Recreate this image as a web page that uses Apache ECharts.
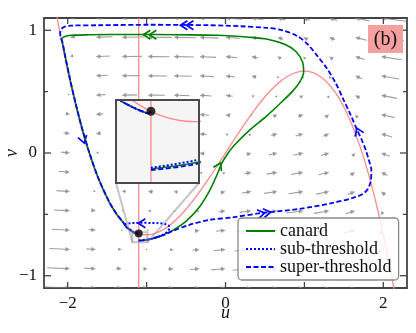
<!DOCTYPE html>
<html><head><meta charset="utf-8">
<script src="https://cdn.jsdelivr.net/npm/echarts@6/dist/echarts.min.js"></script>
<style>html,body{margin:0;padding:0;background:#fff}#c{width:416px;height:333px}</style>
</head><body><div id="c"></div>
<script>
// ---------------- data ----------------
const xLabelValues = [-2, 0, 2];
const yLabelValues = [-1, 0, 1];
const xMajorTicks = [-2, -1, 0, 1, 2];
const yMajorTicks = [-1, 0, 1];
const yMinorTicks = [-0.5, 0.5];

// cubic (u-) nullcline
const nullclineU = [-2.15,-2.1,-2.0,-1.9,-1.8,-1.7,-1.6,-1.5,-1.4,-1.3,-1.25,-1.2,-1.175,-1.15,-1.125,-1.1,-1.075,-1.05,-1.025,-1.0,-0.975,-0.95,-0.9,-0.8,-0.7,-0.6,-0.5,-0.4,-0.3,-0.2,-0.1,0,0.1,0.2,0.3,0.4,0.5,0.6,0.7,0.8,0.9,1.0,1.1,1.2,1.3,1.4,1.5,1.6,1.7,1.8,1.9,2.0,2.1,2.15];
const nullclineV = [1.1627,0.987,0.6667,0.3863,0.144,-0.0623,-0.2347,-0.375,-0.4853,-0.5677,-0.599,-0.624,-0.6343,-0.643,-0.6504,-0.6563,-0.6609,-0.6641,-0.666,-0.6667,-0.666,-0.6642,-0.657,-0.6293,-0.5857,-0.528,-0.4583,-0.3787,-0.291,-0.1973,-0.0997,0,0.0997,0.1973,0.291,0.3787,0.4583,0.528,0.5857,0.6293,0.657,0.6667,0.6563,0.624,0.5677,0.4853,0.375,0.2347,0.0623,-0.144,-0.3863,-0.6667,-0.987,-1.1627];
// vertical (v-) nullcline
const vNullclineU = -1.1;
const vNullclineV = [-1.1, 1.1];
const fixedPoint = [-1.1, -0.6563];

// trajectories
const canardU = [-1.1,-0.99,-0.9,-0.8,-0.648,-0.495,-0.33,-0.203,-0.114,-0.051,0.025,0.114,0.305,0.52,0.724,0.851,0.94,0.99,0.978,0.889,0.749,0.533,0.305,-0.114,-0.584,-1.219,-1.727,-1.956,-2.044,-2.076,-2.066,-2.035,-1.970,-1.897,-1.817,-1.724,-1.614,-1.472,-1.377,-1.303,-1.25,-1.2,-1.171,-1.144,-1.118,-1.107,-1.1];
const canardV = [-0.714,-0.707,-0.695,-0.671,-0.622,-0.553,-0.44,-0.309,-0.187,-0.089,-0.008,0.065,0.187,0.301,0.423,0.504,0.577,0.659,0.74,0.829,0.886,0.927,0.943,0.959,0.963,0.966,0.963,0.959,0.947,0.927,0.9,0.8,0.6,0.4,0.2,0,-0.2,-0.4,-0.5,-0.56,-0.607,-0.631,-0.645,-0.6517,-0.6567,-0.6583,-0.6563];

const subU = [-1.1,-1.0,-0.9,-0.8,-0.735,-0.71,-0.72,-0.77,-0.85,-0.95,-1.05,-1.15,-1.22,-1.27,-1.27,-1.25,-1.2,-1.171,-1.144,-1.118,-1.107,-1.1];
const subV = [-0.7128,-0.7055,-0.693,-0.668,-0.64,-0.61,-0.59,-0.578,-0.572,-0.57,-0.569,-0.57,-0.573,-0.582,-0.595,-0.607,-0.631,-0.645,-0.6517,-0.6567,-0.6583,-0.6563];

const superU = [-1.1,-0.99,-0.927,-0.8,-0.673,-0.457,-0.203,0.089,0.47,0.94,1.359,1.613,1.74,1.803,1.841,1.848,1.816,1.778,1.727,1.663,1.587,1.498,1.397,1.283,1.156,1.041,0.914,0.724,0.52,0.178,-0.203,-0.965,-1.6,-1.956,-2.044,-2.083,-2.095,-2.089,-2.066,-2.035,-1.970,-1.897,-1.817,-1.724,-1.614,-1.472,-1.377,-1.303,-1.25,-1.2,-1.171,-1.144,-1.118,-1.107,-1.1];
const superV = [-0.7152,-0.7082,-0.695,-0.672,-0.636,-0.585,-0.545,-0.524,-0.488,-0.455,-0.407,-0.366,-0.333,-0.293,-0.228,-0.138,-0.057,0.024,0.106,0.195,0.309,0.431,0.569,0.691,0.797,0.886,0.951,1.0,1.02,1.033,1.041,1.045,1.041,1.038,1.028,1.008,0.976,0.943,0.9,0.8,0.6,0.4,0.2,0,-0.2,-0.4,-0.5,-0.56,-0.607,-0.631,-0.645,-0.6517,-0.6567,-0.6583,-0.6563];

// direction arrows on trajectories: [u, v, dirU, dirV, count]
const canardArrows = [[-1.041, 0.963, -1, 0, 2], [-0.063, -0.081, 0.14, 0.18, 1]];
const superArrows = [[-0.571, 1.041, -1, 0, 2], [0.571, -0.482, 1, 0.1, 2], [1.663, 0.203, -0.14, 0.2, 1], [-1.79, 0.081, 0.0227, -0.05, 1]];
const subArrows = [[-1.105, -0.573, -1, 0, 1]];

// vector field grid
const fieldU = [-2.3,-1.9714,-1.6429,-1.3143,-0.9857,-0.6571,-0.3286,0,0.3286,0.6571,0.9857,1.3143,1.6429,1.9714,2.3];
const fieldF = [1.7557,0.5826,-0.1649,-0.5575,-0.6665,-0.5625,-0.3168,0,0.3168,0.5625,0.6665,0.5575,0.1649,-0.5826,-1.7557];
const fieldDV = [-0.084,-0.061,-0.038,-0.015,0.008,0.031,0.054,0.077,0.1,0.123,0.146,0.169,0.192,0.215,0.238];
const fieldV = [-1.1,-0.9429,-0.7857,-0.6286,-0.4714,-0.3143,-0.1571,0,0.1571,0.3143,0.4714,0.6286,0.7857,0.9429,1.1];

// inset window (data range)
const insetURange = [-1.18, -0.99];
const insetVRange = [-0.728, -0.645];

// ---------------- layout / style ----------------
const FONT = 'Liberation Serif';
const MAIN = {left: 44, top: 18, width: 363, height: 270};
const INSET = {left: 116, top: 100, width: 83, height: 83};
const FIELD_SCALE = 15;
const ARROW_COLOR = 'rgba(125,125,125,0.75)';
const RED = '#ff8a8a';
const GREEN = '#008000';
const BLUE = '#0000ff';

const zip = (a, b) => a.map((x, i) => [x, b[i]]);
const nullcline = zip(nullclineU, nullclineV);
const vLine = vNullclineV.map(v => [vNullclineU, v]);
const canard = zip(canardU, canardV);
const sub = zip(subU, subV);
const sup = zip(superU, superV);

const fieldData = [];
fieldV.forEach(v => fieldU.forEach((u, i) => fieldData.push([u, v, fieldF[i] - v, fieldDV[i]])));

const tickData = [].concat(xMajorTicks.map(t => [t, 0, 0]), yMajorTicks.map(t => [0, t, 1]), yMinorTicks.map(t => [0, t, 2]));

function clipOf(cs) { return {type: 'rect', shape: {x: cs.x, y: cs.y, width: cs.width, height: cs.height}}; }

function renderField(params, api) {
  const u = api.value(0), v = api.value(1), du = api.value(2), dv = api.value(3);
  const tip = api.coord([u, v]);
  const dx = FIELD_SCALE * du, dy = -FIELD_SCALE * dv;
  const L = Math.hypot(dx, dy);
  const cs = params.coordSys;
  if (L < 1.3) {
    return {type: 'circle', shape: {cx: tip[0], cy: tip[1], r: 0.8}, style: {fill: ARROW_COLOR}, clipPath: clipOf(cs)};
  }
  const ux = dx / L, uy = dy / L;
  const hl = Math.min(4.5, L), hw = hl * 0.5;
  const base = [tip[0] - ux * hl, tip[1] - uy * hl];
  const tail = [tip[0] - dx, tip[1] - dy];
  return {type: 'group', clipPath: clipOf(cs), children: [
    {type: 'line', shape: {x1: tail[0], y1: tail[1], x2: base[0] + ux, y2: base[1] + uy}, style: {stroke: ARROW_COLOR, lineWidth: 1.1}},
    {type: 'polygon', shape: {points: [tip, [base[0] - uy * hw, base[1] + ux * hw], [base[0] + uy * hw, base[1] - ux * hw]]}, style: {fill: ARROW_COLOR}}
  ]};
}

function makeChevronRenderer(color) {
  return function (params, api) {
    const u = api.value(0), v = api.value(1), du = api.value(2), dv = api.value(3), n = api.value(4);
    const p = api.coord([u, v]);
    const q = api.coord([u + du, v + dv]);
    let dx = q[0] - p[0], dy = q[1] - p[1];
    const L = Math.hypot(dx, dy); dx /= L; dy /= L;
    const depth = 7, hw = 4.5, gap = 6;
    const children = [];
    for (let k = 0; k < n; k++) {
      const t = [p[0] - dx * gap * k, p[1] - dy * gap * k];
      const b = [t[0] - dx * depth, t[1] - dy * depth];
      children.push({type: 'polyline', shape: {points: [[b[0] - dy * hw, b[1] + dx * hw], t, [b[0] + dy * hw, b[1] - dx * hw]]},
        style: {stroke: color, lineWidth: 1.7, fill: null}});
    }
    return {type: 'group', children};
  };
}

function renderTicks(params, api) {
  const cs = params.coordSys;
  const kind = api.value(2);
  const st = {stroke: '#444', lineWidth: 1.3};
  if (kind === 0) {
    const p = api.coord([api.value(0), 0]);
    const len = 6;
    return {type: 'group', children: [
      {type: 'line', shape: {x1: p[0], y1: cs.y + cs.height, x2: p[0], y2: cs.y + cs.height - len}, style: st},
      {type: 'line', shape: {x1: p[0], y1: cs.y, x2: p[0], y2: cs.y + len}, style: st}
    ]};
  }
  const p = api.coord([0, api.value(1)]);
  const len = kind === 1 ? 7 : 4;
  return {type: 'group', children: [
    {type: 'line', shape: {x1: cs.x, y1: p[1], x2: cs.x + len, y2: p[1]}, style: st},
    {type: 'line', shape: {x1: cs.x + cs.width, y1: p[1], x2: cs.x + cs.width - len, y2: p[1]}, style: st}
  ]};
}

function renderIndicator(params, api) {
  const a = api.coord([insetURange[0], insetVRange[0]]);
  const b = api.coord([insetURange[1], insetVRange[1]]);
  const st = {stroke: 'rgba(150,150,150,0.55)', lineWidth: 2, fill: null};
  const x0 = Math.min(a[0], b[0]), x1 = Math.max(a[0], b[0]);
  const y0 = Math.min(a[1], b[1]), y1 = Math.max(a[1], b[1]);
  const iy = INSET.top + INSET.height;
  return {type: 'group', children: [
    {type: 'rect', shape: {x: x0, y: y0, width: x1 - x0, height: y1 - y0}, style: st},
    {type: 'line', shape: {x1: INSET.left, y1: iy, x2: x0, y2: y1}, style: st},
    {type: 'line', shape: {x1: INSET.left + INSET.width, y1: iy, x2: x1, y2: y1}, style: st}
  ]};
}

function renderInsetBg(params, api) {
  const cs = params.coordSys;
  return {type: 'rect', shape: {x: cs.x, y: cs.y, width: cs.width, height: cs.height}, style: {fill: '#f5f5f5', stroke: null}};
}
function renderInsetFrame(params, api) {
  const cs = params.coordSys;
  return {type: 'rect', shape: {x: cs.x, y: cs.y, width: cs.width, height: cs.height}, style: {fill: null, stroke: '#4a4a4a', lineWidth: 2}};
}

function fmt(v, list) {
  if (!list.some(t => Math.abs(t - v) < 1e-9)) return '';
  return v < 0 ? '\u2212' + Math.abs(v) : String(v);
}

function traj(name, data, type, width, color, xi, z) {
  return {type: 'line', name, data, xAxisIndex: xi, yAxisIndex: xi, showSymbol: false, symbol: 'none', smooth: 0.3,
    clip: true, z, silent: true, itemStyle: {color}, lineStyle: {color, width, type}};
}

const option = {
  animation: false,
  backgroundColor: '#fff',
  grid: [
    {left: MAIN.left, top: MAIN.top, width: MAIN.width, height: MAIN.height, containLabel: false, outerBoundsMode: 'none',
      show: true, borderColor: '#444', borderWidth: 1.8, backgroundColor: 'transparent'},
    {left: INSET.left, top: INSET.top, width: INSET.width, height: INSET.height, containLabel: false, outerBoundsMode: 'none', show: false}
  ],
  xAxis: [
    {type: 'value', gridIndex: 0, min: -2.3, max: 2.3, name: 'u', nameLocation: 'middle', nameGap: 16, nameMoveOverlap: false,
      nameTextStyle: {fontFamily: FONT, fontStyle: 'italic', fontSize: 18, color: '#111'},
      axisLine: {show: false}, axisTick: {show: false}, splitLine: {show: false},
      axisLabel: {margin: 7, fontFamily: FONT, fontSize: 17, color: '#111', formatter: v => fmt(v, xLabelValues)}},
    {type: 'value', gridIndex: 1, min: insetURange[0], max: insetURange[1], show: false}
  ],
  yAxis: [
    {type: 'value', gridIndex: 0, min: -1.1, max: 1.1, name: 'v', nameLocation: 'middle', nameGap: 23, nameRotate: 90, nameMoveOverlap: false,
      nameTextStyle: {fontFamily: FONT, fontStyle: 'italic', fontSize: 18, color: '#111'},
      axisLine: {show: false}, axisTick: {show: false}, splitLine: {show: false},
      axisLabel: {margin: 7, fontFamily: FONT, fontSize: 17, color: '#111', formatter: v => fmt(v, yLabelValues)}},
    {type: 'value', gridIndex: 1, min: insetVRange[0], max: insetVRange[1], show: false}
  ],
  legend: {
    data: ['canard', 'sub-threshold', 'super-threshold'],
    orient: 'vertical', left: 238, top: 218, itemWidth: 29, itemHeight: 10, itemGap: 0,
    itemStyle: {opacity: 0, borderWidth: 0},
    lineStyle: {width: 2, opacity: 1},
    padding: [4, 7, 4, 7], backgroundColor: 'rgba(255,255,255,0.8)', borderColor: '#888', borderWidth: 1.3, borderRadius: 4,
    textStyle: {fontFamily: FONT, fontSize: 18, color: '#111', lineHeight: 18}, selectedMode: false, z: 5
  },
  graphic: [
    {type: 'rect', left: 368, top: 25, shape: {width: 35, height: 28}, style: {fill: '#f4a0a0'}, z: 20},
    {type: 'text', x: 385.5, y: 39.5, style: {text: '(b)', font: '20px "Liberation Serif"', fill: '#111', align: 'center', verticalAlign: 'middle'}, z: 21}
  ],
  series: [
    {type: 'custom', xAxisIndex: 0, yAxisIndex: 0, data: fieldData, renderItem: renderField, z: 1, silent: true},
    {type: 'line', data: nullcline, xAxisIndex: 0, yAxisIndex: 0, showSymbol: false, symbol: 'none', smooth: 0.3, z: 2, silent: true, lineStyle: {color: RED, width: 1.3}},
    {type: 'line', data: vLine, xAxisIndex: 0, yAxisIndex: 0, showSymbol: false, symbol: 'none', z: 2, silent: true, lineStyle: {color: RED, width: 1.3}},
    traj('canard', canard, 'solid', 1.6, GREEN, 0, 3),
    traj('sub-threshold', sub, [2, 2], 2, BLUE, 0, 3),
    traj('super-threshold', sup, [5, 2.5], 1.8, BLUE, 0, 3),
    {type: 'custom', xAxisIndex: 0, yAxisIndex: 0, data: canardArrows, renderItem: makeChevronRenderer(GREEN), z: 3, silent: true},
    {type: 'custom', xAxisIndex: 0, yAxisIndex: 0, data: superArrows, renderItem: makeChevronRenderer(BLUE), z: 3, silent: true},
    {type: 'custom', xAxisIndex: 0, yAxisIndex: 0, data: subArrows, renderItem: makeChevronRenderer(BLUE), z: 3, silent: true},
    {type: 'scatter', xAxisIndex: 0, yAxisIndex: 0, data: [fixedPoint], symbolSize: 8, itemStyle: {color: '#000'}, z: 4, silent: true},
    {type: 'custom', xAxisIndex: 0, yAxisIndex: 0, data: [[0, 0]], renderItem: renderIndicator, z: 4, silent: true},
    {type: 'custom', xAxisIndex: 0, yAxisIndex: 0, data: tickData, renderItem: renderTicks, z: 4, silent: true},
    // inset
    {type: 'custom', xAxisIndex: 1, yAxisIndex: 1, data: [[insetURange[0], insetVRange[0]]], renderItem: renderInsetBg, z: 6, silent: true},
    {type: 'line', data: nullcline, xAxisIndex: 1, yAxisIndex: 1, showSymbol: false, symbol: 'none', smooth: 0.3, z: 7, clip: true, silent: true, lineStyle: {color: RED, width: 1.3}},
    {type: 'line', data: vLine, xAxisIndex: 1, yAxisIndex: 1, showSymbol: false, symbol: 'none', z: 7, clip: true, silent: true, lineStyle: {color: RED, width: 1.3}},
    traj('canard', canard, 'solid', 1.6, GREEN, 1, 7),
    traj('sub-threshold', sub, [2, 2], 2, BLUE, 1, 7),
    traj('super-threshold', sup, [5, 2.5], 1.8, BLUE, 1, 7),
    {type: 'scatter', xAxisIndex: 1, yAxisIndex: 1, data: [fixedPoint], symbolSize: 9, itemStyle: {color: '#000'}, z: 8, silent: true},
    {type: 'custom', xAxisIndex: 1, yAxisIndex: 1, data: [[insetURange[0], insetVRange[0]]], renderItem: renderInsetFrame, z: 9, silent: true}
  ]
};

const chart = echarts.init(document.getElementById('c'), null, {renderer: 'canvas'});
chart.setOption(option);
</script>
</body></html>
